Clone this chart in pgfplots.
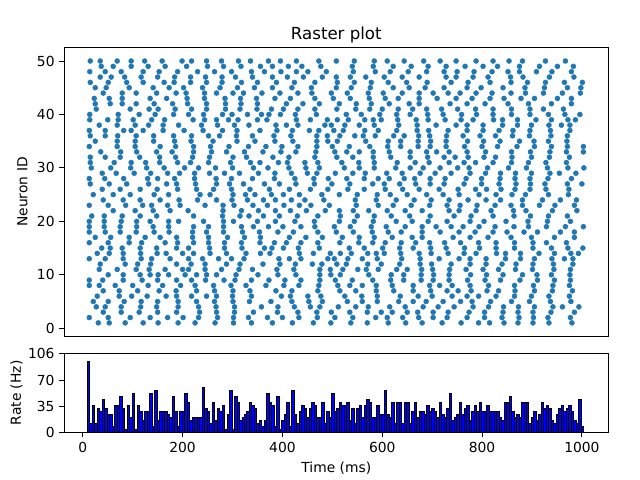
\documentclass[border=0pt]{standalone}
\usepackage{pgfplots}
\pgfplotsset{compat=1.18}
\usepackage{fontspec}
\setmainfont{DejaVu Sans}
\definecolor{mplblue}{HTML}{1F77B4}
\begin{document}
\begin{tikzpicture}
\useasboundingbox (0,0) rectangle (460.8bp,345.6bp);
\pgfplotsset{every axis/.append style={
  scale only axis, tick align=outside, tick pos=left,
  major tick length=3.5bp, axis line style={line width=0.6bp}, every tick/.style={black,line width=0.6bp},
  /pgf/number format/assume math mode=true, /pgf/number format/1000 sep={},
  tick label style={font=\fontsize{10}{12}\selectfont},
  label style={font=\fontsize{10}{12}\selectfont},
  xmin=-37, xmax=1053}}
\begin{axis}[at={(46.3bp,103.7bp)}, anchor=south west, width=391.7bp, height=207.4bp,
  ymin=-1.45, ymax=52.45, ytick={0,10,20,30,40,50}, xtick=\empty,
  title={Raster plot}, title style={font=\fontsize{12}{14}\selectfont, yshift=-6bp},
  ylabel={Neuron ID}, ylabel style={yshift=0bp}]
\addplot[only marks, color=mplblue, mark=*, mark size=1.8bp, mark options={solid, draw=mplblue, fill=mplblue, line width=0.3bp}] coordinates {
(15,50) (35,50) (69,50) (97,50) (124,50) (159,50) (199,50) (218,50) (248,50) (278,50) (312,50) (336,50) (372,50) (396,50) (428,50) (473,50) (508,50) (544,50) (584,50) (610,50) (644,50) (683,50) (716,50) (748,50) (788,50) (822,50) (854,50) (881,50) (927,50) (967,50)
(37,49) (61,49) (97,49) (131,49) (165,49) (208,49) (250,49) (282,49) (317,49) (356,49) (380,49) (412,49) (439,49) (477,49) (540,49) (582,49) (622,49) (658,49) (692,49) (728,49) (766,49) (802,49) (831,49) (875,49) (915,49) (951,49) (983,49)
(14,48) (45,48) (77,48) (121,48) (153,48) (190,48) (230,48) (264,48) (298,48) (338,48) (364,48) (397,48) (428,48) (451,48) (488,48) (542,48) (586,48) (616,48) (652,48) (689,48) (724,48) (750,48) (784,48) (820,48) (852,48) (875,48) (909,48) (940,48) (979,48)
(35,47) (57,47) (84,47) (117,47) (150,47) (184,47) (216,47) (246,47) (279,47) (306,47) (340,47) (380,47) (410,47) (442,47) (480,47) (508,47) (536,47) (567,47) (604,47) (640,47) (674,47) (728,47) (748,47) (782,47) (812,47) (857,47) (882,47) (935,47) (984,47)
(15,46) (51,46) (88,46) (121,46) (163,46) (183,46) (216,46) (248,46) (279,46) (318,46) (350,46) (388,46) (424,46) (465,46) (510,46) (544,46) (578,46) (612,46) (649,46) (690,46) (738,46) (772,46) (816,46) (858,46) (891,46) (927,46) (965,46) (1001,46)
(25,45) (47,45) (93,45) (141,45) (173,45) (202,45) (240,45) (275,45) (310,45) (344,45) (380,45) (419,45) (458,45) (508,45) (538,45) (576,45) (622,45) (654,45) (686,45) (724,45) (770,45) (798,45) (842,45) (886,45) (925,45) (971,45) (998,45)
(41,44) (79,44) (107,44) (148,44) (187,44) (207,44) (244,44) (268,44) (301,44) (322,44) (359,44) (395,44) (431,44) (459,44) (498,44) (530,44) (572,44) (602,44) (640,44) (674,44) (702,44) (732,44) (756,44) (788,44) (820,44) (858,44) (887,44) (923,44) (961,44) (997,44)
(23,43) (53,43) (79,43) (135,43) (168,43) (209,43) (244,43) (285,43) (316,43) (348,43) (385,43) (416,43) (465,43) (502,43) (536,43) (574,43) (606,43) (632,43) (674,43) (710,43) (748,43) (780,43) (816,43) (844,43) (878,43) (905,43) (951,43) (979,43)
(25,42) (55,42) (79,42) (107,42) (143,42) (180,42) (210,42) (248,42) (286,42) (317,42) (350,42) (408,42) (441,42) (474,42) (514,42) (548,42) (578,42) (614,42) (654,42) (674,42) (736,42) (770,42) (806,42) (852,42) (893,42) (939,42) (979,42)
(27,41) (95,41) (133,41) (151,41) (185,41) (218,41) (248,41) (286,41) (315,41) (349,41) (378,41) (402,41) (431,41) (465,41) (509,41) (547,41) (575,41) (600,41) (632,41) (661,41) (689,41) (719,41) (751,41) (787,41) (822,41) (859,41) (896,41) (923,41) (963,41)
(14,40) (71,40) (113,40) (145,40) (182,40) (212,40) (242,40) (280,40) (299,40) (330,40) (358,40) (373,40) (396,40) (426,40) (468,40) (528,40) (558,40) (595,40) (629,40) (656,40) (691,40) (722,40) (759,40) (789,40) (822,40) (859,40) (896,40) (933,40) (966,40) (996,40)
(14,39) (50,39) (71,39) (101,39) (138,39) (164,39) (221,39) (244,39) (268,39) (292,39) (311,39) (350,39) (369,39) (428,39) (456,39) (490,39) (510,39) (532,39) (565,39) (582,39) (598,39) (631,39) (668,39) (692,39) (726,39) (758,39) (782,39) (823,39) (841,39) (871,39) (908,39) (939,39) (972,39) (987,39)
(33,38) (69,38) (105,38) (132,38) (161,38) (192,38) (238,38) (270,38) (304,38) (333,38) (387,38) (408,38) (431,38) (485,38) (498,38) (525,38) (554,38) (584,38) (633,38) (670,38) (708,38) (748,38) (770,38) (802,38) (841,38) (871,38) (899,38) (934,38) (959,38) (976,38)
(13,37) (45,37) (82,37) (97,37) (121,37) (161,37) (203,37) (241,37) (280,37) (309,37) (355,37) (389,37) (420,37) (454,37) (473,37) (503,37) (522,37) (565,37) (592,37) (629,37) (670,37) (693,37) (732,37) (770,37) (802,37) (834,37) (862,37) (896,37) (937,37) (976,37)
(15,36) (45,36) (70,36) (107,36) (142,36) (182,36) (218,36) (252,36) (274,36) (308,36) (340,36) (383,36) (417,36) (469,36) (490,36) (515,36) (545,36) (562,36) (586,36) (623,36) (644,36) (673,36) (695,36) (729,36) (762,36) (796,36) (827,36) (861,36) (895,36) (938,36) (971,36)
(25,35) (69,35) (105,35) (142,35) (184,35) (217,35) (261,35) (309,35) (345,35) (385,35) (421,35) (469,35) (491,35) (510,35) (567,35) (612,35) (637,35) (672,35) (697,35) (728,35) (771,35) (803,35) (836,35) (875,35) (904,35) (933,35) (970,35)
(13,34) (69,34) (105,34) (155,34) (186,34) (222,34) (256,34) (293,34) (332,34) (367,34) (399,34) (431,34) (469,34) (500,34) (534,34) (575,34) (611,34) (637,34) (672,34) (696,34) (728,34) (765,34) (800,34) (831,34) (870,34) (905,34) (939,34) (971,34) (1003,34)
(36,33) (76,33) (108,33) (148,33) (179,33) (222,33) (258,33) (288,33) (324,33) (361,33) (397,33) (427,33) (467,33) (505,33) (529,33) (554,33) (582,33) (614,33) (656,33) (689,33) (709,33) (734,33) (770,33) (807,33) (859,33) (897,33) (936,33) (969,33) (1003,33)
(15,32) (45,32) (75,32) (114,32) (154,32) (186,32) (220,32) (254,32) (301,32) (328,32) (381,32) (413,32) (465,32) (509,32) (541,32) (582,32) (617,32) (656,32) (691,32) (724,32) (746,32) (772,32) (804,32) (827,32) (860,32) (899,32) (935,32) (975,32)
(15,31) (63,31) (97,31) (126,31) (154,31) (190,31) (216,31) (252,31) (296,31) (336,31) (355,31) (392,31) (410,31) (445,31) (471,31) (519,31) (553,31) (584,31) (630,31) (666,31) (694,31) (734,31) (764,31) (787,31) (822,31) (859,31) (893,31) (928,31) (969,31)
(17,30) (56,30) (96,30) (128,30) (163,30) (204,30) (232,30) (266,30) (300,30) (342,30) (371,30) (413,30) (447,30) (474,30) (524,30) (554,30) (584,30) (627,30) (656,30) (682,30) (716,30) (751,30) (774,30) (811,30) (853,30) (889,30) (931,30) (972,30) (1004,30)
(39,29) (67,29) (103,29) (136,29) (170,29) (194,29) (224,29) (254,29) (284,29) (314,29) (352,29) (385,29) (418,29) (450,29) (469,29) (506,29) (541,29) (566,29) (609,29) (640,29) (676,29) (706,29) (738,29) (776,29) (807,29) (837,29) (867,29) (899,29) (936,29) (955,29) (988,29)
(13,28) (44,28) (82,28) (130,28) (150,28) (184,28) (224,28) (267,28) (298,28) (340,28) (384,28) (425,28) (463,28) (492,28) (529,28) (564,28) (592,28) (614,28) (644,28) (665,28) (696,28) (726,28) (768,28) (799,28) (836,28) (866,28) (896,28) (932,28) (979,28)
(15,27) (53,27) (88,27) (132,27) (168,27) (188,27) (226,27) (268,27) (294,27) (322,27) (364,27) (394,27) (427,27) (464,27) (499,27) (535,27) (581,27) (604,27) (635,27) (667,27) (696,27) (724,27) (764,27) (799,27) (834,27) (868,27) (897,27) (926,27) (971,27) (1000,27)
(39,26) (75,26) (115,26) (149,26) (190,26) (228,26) (262,26) (298,26) (335,26) (374,26) (414,26) (456,26) (491,26) (531,26) (564,26) (606,26) (641,26) (674,26) (714,26) (752,26) (787,26) (809,26) (838,26) (866,26) (896,26) (928,26) (974,26)
(21,25) (61,25) (95,25) (143,25) (172,25) (235,25) (255,25) (301,25) (326,25) (345,25) (378,25) (402,25) (434,25) (479,25) (514,25) (550,25) (590,25) (616,25) (650,25) (689,25) (722,25) (754,25) (794,25) (828,25) (860,25) (887,25) (933,25) (973,25)
(41,24) (81,24) (115,24) (155,24) (193,24) (230,24) (268,24) (299,24) (330,24) (362,24) (386,24) (418,24) (445,24) (483,24) (546,24) (588,24) (628,24) (664,24) (698,24) (734,24) (772,24) (808,24) (837,24) (881,24) (921,24) (957,24) (989,24)
(13,23) (51,23) (86,23) (120,23) (138,23) (170,23) (195,23) (245,23) (281,23) (303,23) (341,23) (370,23) (403,23) (434,23) (457,23) (494,23) (548,23) (592,23) (622,23) (658,23) (695,23) (730,23) (756,23) (790,23) (826,23) (858,23) (881,23) (915,23) (946,23) (985,23)
(61,22) (105,22) (141,22) (175,22) (211,22) (281,22) (318,22) (352,22) (386,22) (416,22) (448,22) (486,22) (514,22) (542,22) (573,22) (610,22) (646,22) (680,22) (734,22) (754,22) (788,22) (818,22) (863,22) (888,22) (941,22) (990,22)
(18,21) (43,21) (79,21) (115,21) (148,21) (222,21) (280,21) (315,21) (333,21) (362,21) (394,21) (430,21) (471,21) (516,21) (550,21) (584,21) (618,21) (655,21) (696,21) (744,21) (778,21) (822,21) (864,21) (897,21) (933,21) (971,21)
(13,20) (43,20) (77,20) (108,20) (135,20) (172,20) (192,20) (242,20) (282,20) (302,20) (350,20) (386,20) (425,20) (464,20) (514,20) (544,20) (582,20) (628,20) (660,20) (692,20) (730,20) (776,20) (804,20) (848,20) (892,20) (931,20) (977,20)
(13,19) (43,19) (75,19) (108,19) (141,19) (172,19) (222,19) (252,19) (282,19) (318,19) (342,19) (372,19) (401,19) (437,19) (465,19) (504,19) (536,19) (578,19) (608,19) (646,19) (680,19) (708,19) (738,19) (762,19) (794,19) (826,19) (864,19) (893,19) (929,19) (967,19) (1003,19)
(13,18) (45,18) (75,18) (107,18) (143,18) (173,18) (220,18) (248,18) (282,18) (320,18) (354,18) (391,18) (422,18) (471,18) (508,18) (542,18) (580,18) (612,18) (638,18) (680,18) (716,18) (754,18) (786,18) (822,18) (850,18) (884,18) (911,18) (957,18) (985,18)
(25,17) (56,17) (93,17) (125,17) (155,17) (188,17) (220,17) (252,17) (290,17) (324,17) (356,17) (414,17) (447,17) (480,17) (520,17) (554,17) (584,17) (620,17) (660,17) (680,17) (742,17) (776,17) (812,17) (858,17) (899,17) (945,17) (985,17)
(13,16) (51,16) (93,16) (118,16) (165,16) (190,16) (222,16) (252,16) (284,16) (318,16) (355,16) (384,16) (408,16) (437,16) (471,16) (515,16) (553,16) (581,16) (606,16) (638,16) (667,16) (695,16) (725,16) (757,16) (793,16) (828,16) (865,16) (902,16) (929,16) (969,16)
(38,15) (55,15) (79,15) (115,15) (148,15) (188,15) (212,15) (254,15) (284,15) (319,15) (364,15) (379,15) (402,15) (432,15) (474,15) (534,15) (564,15) (601,15) (635,15) (662,15) (697,15) (728,15) (765,15) (795,15) (828,15) (865,15) (902,15) (939,15) (972,15) (1002,15)
(29,14) (53,14) (81,14) (116,14) (149,14) (167,14) (200,14) (222,14) (255,14) (288,14) (327,14) (356,14) (375,14) (434,14) (462,14) (496,14) (516,14) (538,14) (571,14) (588,14) (604,14) (637,14) (674,14) (698,14) (732,14) (764,14) (788,14) (829,14) (847,14) (877,14) (914,14) (945,14) (978,14) (993,14)
(13,13) (45,13) (81,13) (117,13) (138,13) (175,13) (212,13) (240,13) (272,13) (298,13) (323,13) (393,13) (414,13) (437,13) (491,13) (504,13) (531,13) (560,13) (590,13) (639,13) (676,13) (714,13) (754,13) (776,13) (808,13) (847,13) (877,13) (905,13) (940,13) (965,13) (982,13)
(35,12) (85,12) (110,12) (136,12) (188,12) (217,12) (245,12) (288,12) (315,12) (361,12) (395,12) (426,12) (460,12) (479,12) (509,12) (528,12) (571,12) (598,12) (635,12) (676,12) (699,12) (738,12) (776,12) (808,12) (840,12) (868,12) (902,12) (943,12) (982,12)
(33,11) (69,11) (107,11) (133,11) (165,11) (200,11) (212,11) (245,11) (278,11) (313,11) (340,11) (389,11) (423,11) (475,11) (496,11) (521,11) (551,11) (568,11) (592,11) (629,11) (650,11) (679,11) (701,11) (735,11) (768,11) (802,11) (833,11) (867,11) (901,11) (944,11) (977,11)
(51,10) (81,10) (115,10) (135,10) (151,10) (172,10) (205,10) (228,10) (248,10) (268,10) (307,10) (351,10) (391,10) (427,10) (475,10) (497,10) (516,10) (573,10) (618,10) (643,10) (678,10) (703,10) (734,10) (777,10) (809,10) (842,10) (881,10) (910,10) (939,10) (976,10)
(13,9) (40,9) (81,9) (119,9) (150,9) (188,9) (218,9) (246,9) (283,9) (305,9) (338,9) (373,9) (405,9) (437,9) (475,9) (506,9) (540,9) (581,9) (617,9) (643,9) (678,9) (702,9) (734,9) (771,9) (806,9) (837,9) (876,9) (911,9) (945,9) (977,9)
(13,8) (33,8) (65,8) (100,8) (131,8) (160,8) (196,8) (225,8) (262,8) (297,8) (327,8) (367,8) (403,8) (433,8) (473,8) (511,8) (535,8) (560,8) (588,8) (620,8) (662,8) (695,8) (715,8) (740,8) (776,8) (813,8) (865,8) (903,8) (942,8) (975,8)
(41,7) (73,7) (110,7) (153,7) (187,7) (228,7) (264,7) (301,7) (335,7) (387,7) (419,7) (471,7) (515,7) (547,7) (588,7) (623,7) (662,7) (697,7) (730,7) (752,7) (778,7) (810,7) (833,7) (866,7) (905,7) (941,7) (981,7)
(29,6) (73,6) (98,6) (129,6) (167,6) (188,6) (218,6) (248,6) (268,6) (300,6) (338,6) (398,6) (416,6) (451,6) (477,6) (525,6) (559,6) (590,6) (636,6) (672,6) (700,6) (740,6) (770,6) (793,6) (828,6) (865,6) (899,6) (934,6) (975,6)
(21,5) (51,5) (83,5) (117,5) (150,5) (191,5) (228,5) (264,5) (301,5) (334,5) (377,5) (419,5) (453,5) (480,5) (530,5) (560,5) (590,5) (633,5) (662,5) (688,5) (722,5) (757,5) (780,5) (817,5) (859,5) (895,5) (937,5) (978,5)
(27,4) (45,4) (77,4) (116,4) (148,4) (191,4) (232,4) (267,4) (304,4) (358,4) (391,4) (424,4) (456,4) (475,4) (512,4) (547,4) (572,4) (615,4) (646,4) (682,4) (712,4) (744,4) (782,4) (813,4) (843,4) (873,4) (905,4) (942,4) (961,4) (994,4)
(41,3) (77,3) (113,3) (150,3) (188,3) (234,3) (268,3) (304,3) (342,3) (390,3) (431,3) (469,3) (498,3) (535,3) (570,3) (598,3) (620,3) (650,3) (671,3) (702,3) (732,3) (774,3) (805,3) (842,3) (872,3) (902,3) (938,3) (985,3)
(13,2) (51,2) (95,2) (135,2) (170,2) (201,2) (232,2) (270,2) (302,2) (332,2) (370,2) (400,2) (433,2) (470,2) (505,2) (541,2) (587,2) (610,2) (641,2) (673,2) (702,2) (730,2) (770,2) (805,2) (840,2) (874,2) (903,2) (932,2) (977,2)
(31,1) (53,1) (85,1) (121,1) (151,1) (191,1) (225,1) (265,1) (302,1) (338,1) (380,1) (420,1) (462,1) (497,1) (537,1) (570,1) (612,1) (647,1) (680,1) (720,1) (758,1) (793,1) (815,1) (844,1) (872,1) (902,1) (934,1) (980,1)
};
\end{axis}
\begin{axis}[at={(46.3bp,34.56bp)}, anchor=south west, width=391.7bp, height=56.4bp,
  ymin=0, ymax=106, ytick={0,35,70,106}, xtick={0,200,400,600,800,1000},
  xlabel={Time (ms)}, ylabel={Rate (Hz)}, ylabel style={yshift=-3bp}]
\addplot[ybar interval, fill=blue, draw=black, line width=0.7bp] coordinates {
(9,96) (14,12) (19,36) (24,12) (29,32) (34,28) (39,44) (44,32) (49,24) (54,24) (59,8) (64,36) (69,36) (74,48) (79,32) (84,4) (89,36) (94,20) (99,52) (104,4) (109,36) (114,28) (119,16) (124,28) (129,28) (134,52) (139,8) (144,56) (149,16) (154,28) (159,28) (164,28) (169,24) (174,20) (179,48) (184,28) (189,8) (194,28)
(199,28) (204,52) (209,40) (214,16) (219,20) (224,20) (229,20) (234,20) (239,60) (244,32) (249,28) (254,12) (259,40) (264,16) (269,32) (274,28) (279,36) (284,4) (289,24) (294,56) (299,4) (304,48) (309,40) (314,16) (319,20) (324,24) (329,28) (334,40) (339,36) (344,32) (349,12) (354,16) (359,8) (364,16) (369,52) (374,40) (379,36) (384,8) (389,48) (394,4)
(399,16) (404,24) (409,40) (414,8) (419,56) (424,24) (429,12) (434,28) (439,36) (444,32) (449,20) (454,32) (459,40) (464,36) (469,20) (474,20) (479,40) (484,12) (489,28) (494,20) (499,52) (504,28) (509,32) (514,40) (519,36) (524,36) (529,40) (534,16) (539,32) (544,12) (549,32) (554,36) (559,20) (564,36) (569,44) (574,40) (579,20) (584,20) (589,36) (594,24)
(599,24) (604,56) (609,24) (614,20) (619,40) (624,12) (629,40) (634,40) (639,12) (644,40) (649,40) (654,12) (659,28) (664,40) (669,20) (674,28) (679,28) (684,24) (689,36) (694,28) (699,32) (704,28) (709,20) (714,40) (719,24) (724,20) (729,32) (734,52) (739,16) (744,20) (749,24) (754,40) (759,24) (764,32) (769,36) (774,16) (779,28) (784,36) (789,28) (794,40)
(799,28) (804,28) (809,36) (814,28) (819,28) (824,28) (829,28) (834,20) (839,16) (844,40) (849,40) (854,48) (859,28) (864,20) (869,24) (874,20) (879,40) (884,40) (889,40) (894,12) (899,20) (904,28) (909,16) (914,24) (919,40) (924,32) (929,36) (934,32) (939,16) (944,12) (949,24) (954,32) (959,36) (964,28) (969,32) (974,36) (979,28) (984,16) (989,12) (994,44) (999,8) (1004,0)
};
\end{axis}
\end{tikzpicture}
\end{document}
